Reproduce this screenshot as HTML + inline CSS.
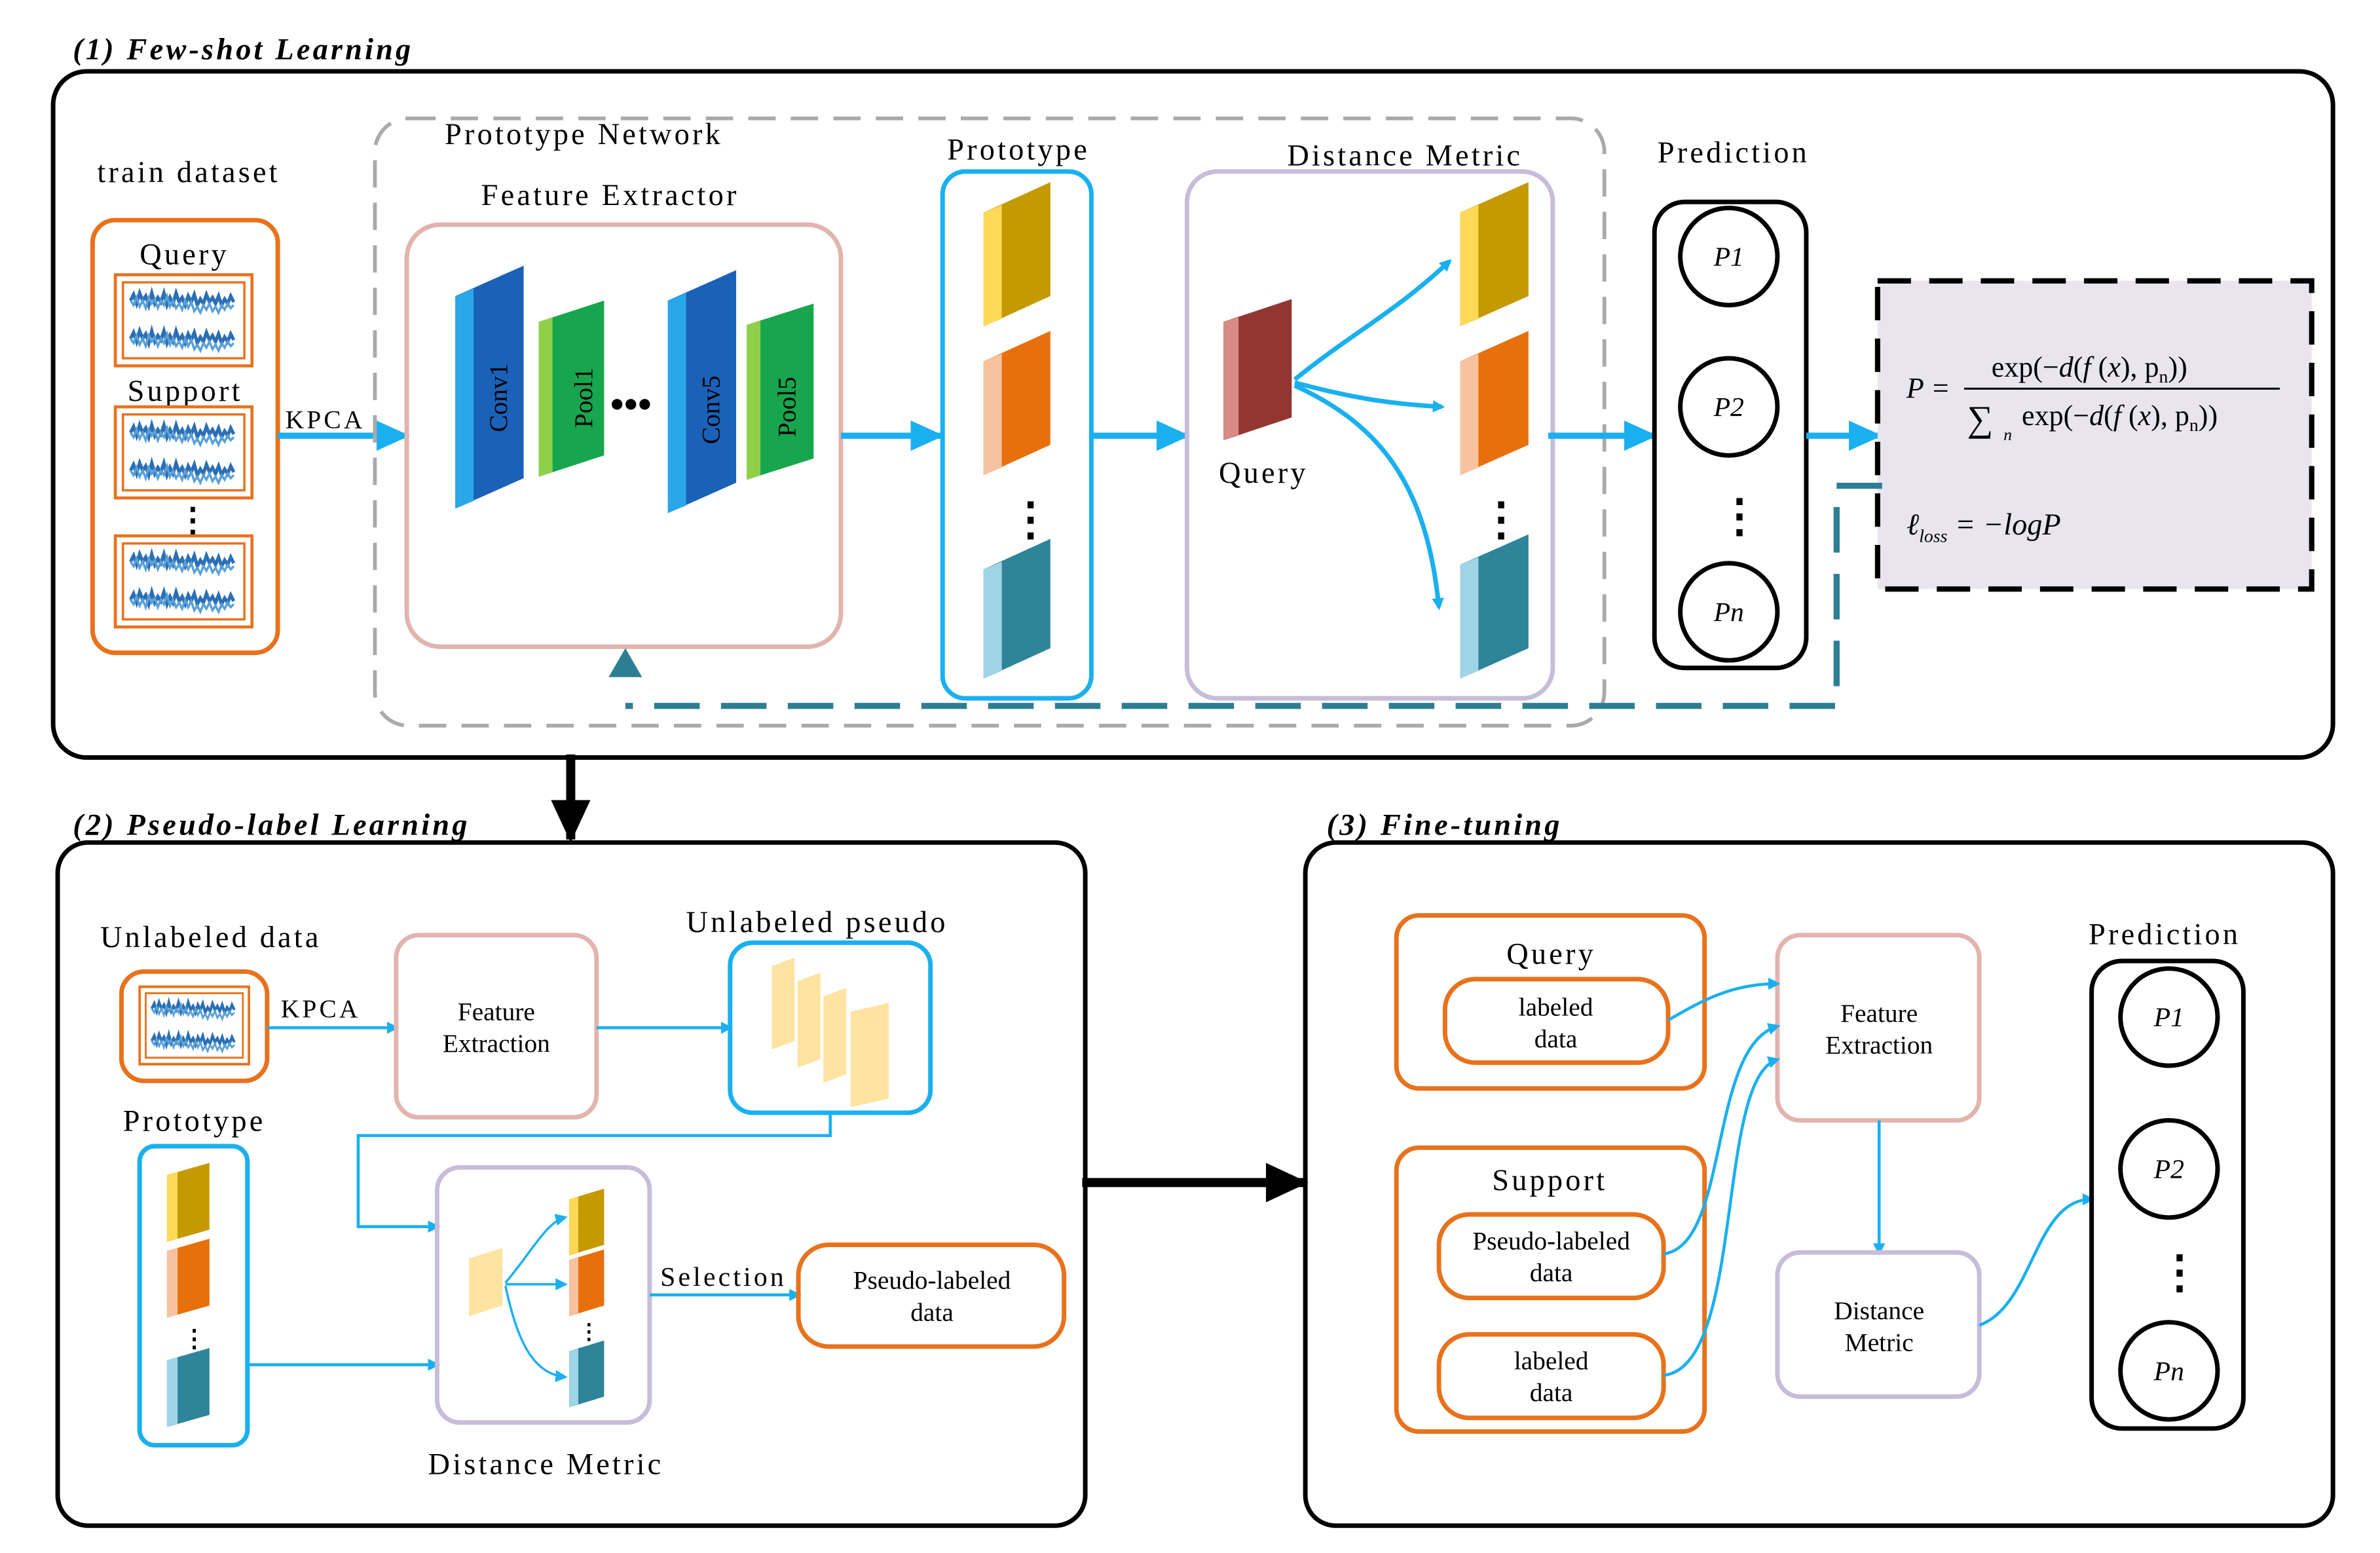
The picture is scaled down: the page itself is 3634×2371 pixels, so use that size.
<!DOCTYPE html>
<html><head><meta charset="utf-8">
<style>
html,body{margin:0;padding:0;background:#fff;}
svg{display:block;}
text{font-family:"Liberation Serif",serif;}
.w{letter-spacing:1.8px;}
</style></head>
<body>
<svg width="3634" height="2371" viewBox="0 0 1568 1023" preserveAspectRatio="none" xmlns="http://www.w3.org/2000/svg">
<defs>
<marker id="ab" markerWidth="8" markerHeight="8" refX="6" refY="4" orient="auto" markerUnits="userSpaceOnUse" viewBox="0 0 8 8"><path d="M0,0 L8,4 L0,8 z" fill="#1ab0ef"/></marker>
<marker id="abig" markerWidth="22" markerHeight="20" refX="20" refY="10" orient="auto" markerUnits="userSpaceOnUse"><path d="M0,0 L22,10 L0,20 z" fill="#1ab0ef"/></marker>
<marker id="ak" markerWidth="28" markerHeight="26" refX="26" refY="13" orient="auto" markerUnits="userSpaceOnUse"><path d="M0,0 L28,13 L0,26 z" fill="#000"/></marker>
<g id="wave">
<path d="M10,0 l2,-4 l2,6 l2,-7 l2,5 l2,-3 l2,6 l2,-8 l2,7 l2,-4 l2,3 l2,-6 l2,8 l2,-5 l2,4 l2,-7 l2,6 l2,-3 l2,5 l2,-6 l2,4 l2,-5 l2,7 l2,-4 l2,3 l2,-6 l2,5 l2,-3 l2,4 l2,-5 l2,6 l2,-4 l2,3 l2,-5 l2,4" fill="none" stroke="#2a6fb5" stroke-width="2.2"/>
<path d="M10,0 l2,3 l2,-5 l2,6 l2,-4 l2,5 l2,-7 l2,4 l2,-3 l2,6 l2,-5 l2,3 l2,-6 l2,7 l2,-4 l2,5 l2,-3 l2,4 l2,-6 l2,5 l2,-4 l2,6 l2,-3 l2,4 l2,-5 l2,3 l2,-4 l2,5 l2,-3 l2,4 l2,-5 l2,3 l2,-4 l2,3 l2,-2" fill="none" stroke="#5aa0d8" stroke-width="1.5"/>
</g>
<g id="sig">
<rect x="0" y="0" width="90" height="60" fill="#fff" stroke="#e8721c" stroke-width="2"/>
<rect x="5" y="5" width="80" height="50" fill="#fff" stroke="#e8721c" stroke-width="1.5"/>
<use href="#wave" y="17"/>
<use href="#wave" y="42"/>
</g>
</defs>
<rect width="1568" height="1023" fill="#fff"/>

<!-- Section 1 -->
<text x="48" y="39" font-size="20" font-weight="bold" font-style="italic" class="w">(1) Few-shot Learning</text>
<rect x="35" y="47" width="1502" height="452" rx="22" fill="none" stroke="#000" stroke-width="3"/>
<text x="64" y="120" font-size="20" class="w">train dataset</text>
<rect x="61" y="145" width="122" height="285" rx="15" fill="none" stroke="#e8721c" stroke-width="3"/>
<text x="92" y="174" font-size="20" class="w">Query</text>
<use href="#sig" x="76" y="181"/>
<text x="84" y="264" font-size="20" class="w">Support</text>
<use href="#sig" x="76" y="268"/>
<text x="116" y="350" font-size="22" font-weight="bold">⋮</text>
<use href="#sig" x="76" y="353"/>
<text x="188" y="282" font-size="17" class="w">KPCA</text>
<line x1="183" y1="287" x2="268" y2="287" stroke="#1ab0ef" stroke-width="4" marker-end="url(#abig)"/>

<rect x="247" y="78" width="810" height="400" rx="22" fill="none" stroke="#aaa" stroke-width="2.5" stroke-dasharray="18 10"/>
<text x="293" y="95" font-size="20" class="w">Prototype Network</text>
<text x="317" y="135" font-size="20" class="w">Feature Extractor</text>
<rect x="268" y="148" width="286" height="278" rx="22" fill="none" stroke="#e2b4ae" stroke-width="3"/>
<polygon points="300,195 345,175 345,315 300,335" fill="#1a62b8"/>
<polygon points="300,195 312,190 312,330 300,335" fill="#2aa7e8"/>
<text transform="translate(334,262) rotate(-90)" font-size="17" text-anchor="middle">Conv1</text>
<polygon points="355,212 398,198 398,300 355,314" fill="#17a54d"/>
<polygon points="355,212 364,209 364,311 355,314" fill="#8fd04a"/>
<text transform="translate(390,262) rotate(-90)" font-size="17" text-anchor="middle">Pool1</text>
<text x="402" y="275" font-size="26" font-weight="bold">•••</text>
<polygon points="440,198 485,178 485,318 440,338" fill="#1a62b8"/>
<polygon points="440,198 452,193 452,333 440,338" fill="#2aa7e8"/>
<text transform="translate(474,270) rotate(-90)" font-size="17" text-anchor="middle">Conv5</text>
<polygon points="492,214 536,200 536,302 492,316" fill="#17a54d"/>
<polygon points="492,214 501,211 501,313 492,316" fill="#8fd04a"/>
<text transform="translate(524,268) rotate(-90)" font-size="17" text-anchor="middle">Pool5</text>
<line x1="554" y1="287" x2="620" y2="287" stroke="#1ab0ef" stroke-width="4" marker-end="url(#abig)"/>

<text x="624" y="105" font-size="20" class="w">Prototype</text>
<rect x="621" y="113" width="98" height="347" rx="15" fill="none" stroke="#1ab0ef" stroke-width="3"/>
<polygon points="648,140 692,120 692,195 648,215" fill="#c49a00"/><polygon points="648,140 660,135 660,210 648,215" fill="#ffd856"/>
<polygon points="648,238 692,218 692,293 648,313" fill="#e8700c"/><polygon points="648,238 660,233 660,308 648,313" fill="#f7c2a0"/>
<text x="664" y="352" font-size="30" font-weight="bold">⋮</text>
<polygon points="648,375 692,355 692,427 648,447" fill="#2e8499"/><polygon points="648,375 660,370 660,442 648,447" fill="#9fd4e6"/>
<line x1="719" y1="287" x2="782" y2="287" stroke="#1ab0ef" stroke-width="4" marker-end="url(#abig)"/>

<text x="848" y="109" font-size="20" class="w">Distance Metric</text>
<rect x="782" y="113" width="241" height="347" rx="20" fill="none" stroke="#c7bcd9" stroke-width="3"/>
<polygon points="806,212 851,197 851,275 806,290" fill="#933632"/><polygon points="806,212 816,209 816,287 806,290" fill="#d88a86"/>
<text x="803" y="318" font-size="20" class="w">Query</text>
<path d="M853,250 C890,220 920,205 955,172" fill="none" stroke="#1ab0ef" stroke-width="3" marker-end="url(#ab)"/>
<path d="M853,252 C890,262 915,266 950,268" fill="none" stroke="#1ab0ef" stroke-width="3" marker-end="url(#ab)"/>
<path d="M853,254 C910,280 940,320 948,400" fill="none" stroke="#1ab0ef" stroke-width="3" marker-end="url(#ab)"/>
<polygon points="962,140 1007,120 1007,195 962,215" fill="#c49a00"/><polygon points="962,140 974,135 974,210 962,215" fill="#ffd856"/>
<polygon points="962,238 1007,218 1007,293 962,313" fill="#e8700c"/><polygon points="962,238 974,233 974,308 962,313" fill="#f7c2a0"/>
<text x="974" y="352" font-size="30" font-weight="bold">⋮</text>
<polygon points="962,372 1007,352 1007,427 962,447" fill="#2e8499"/><polygon points="962,372 974,367 974,442 962,447" fill="#9fd4e6"/>
<line x1="1020" y1="287" x2="1090" y2="287" stroke="#1ab0ef" stroke-width="4" marker-end="url(#abig)"/>

<text x="1092" y="107" font-size="20" class="w">Prediction</text>
<rect x="1090" y="133" width="100" height="307" rx="20" fill="none" stroke="#000" stroke-width="3"/>
<circle cx="1139" cy="169" r="32" fill="none" stroke="#000" stroke-width="3"/><text x="1139" y="175" font-size="18" font-style="italic" text-anchor="middle">P1</text>
<circle cx="1139" cy="268" r="32" fill="none" stroke="#000" stroke-width="3"/><text x="1139" y="274" font-size="18" font-style="italic" text-anchor="middle">P2</text>
<text x="1131" y="350" font-size="30" font-weight="bold">⋮</text>
<circle cx="1139" cy="403" r="32" fill="none" stroke="#000" stroke-width="3"/><text x="1139" y="409" font-size="18" font-style="italic" text-anchor="middle">Pn</text>
<line x1="1190" y1="287" x2="1238" y2="287" stroke="#1ab0ef" stroke-width="4" marker-end="url(#abig)"/>

<rect x="1237" y="185" width="286" height="203" fill="#e8e5ee" stroke="#000" stroke-width="3.5" stroke-dasharray="22 12"/>
<text x="1256" y="262" font-size="19" font-style="italic">P =</text>
<text x="1312" y="248" font-size="19">exp(−<tspan font-style="italic">d</tspan>(<tspan font-style="italic">f</tspan> (<tspan font-style="italic">x</tspan>), p<tspan font-size="12" dy="4">n</tspan><tspan dy="-4">))</tspan></text>
<line x1="1294" y1="256" x2="1502" y2="256" stroke="#000" stroke-width="1.3"/>
<text x="1296" y="284" font-size="24">∑</text><text x="1320" y="290" font-size="11" font-style="italic">n</text>
<text x="1332" y="280" font-size="19">exp(−<tspan font-style="italic">d</tspan>(<tspan font-style="italic">f</tspan> (<tspan font-style="italic">x</tspan>), p<tspan font-size="12" dy="4">n</tspan><tspan dy="-4">))</tspan></text>
<text x="1256" y="352" font-size="20" font-style="italic">ℓ<tspan font-size="12" dy="5">loss</tspan><tspan dy="-5"> = −logP</tspan></text>

<path d="M1240,320 L1210,320 L1210,465 L412,465" fill="none" stroke="#2e7e93" stroke-width="4" stroke-dasharray="30 14"/>
<polygon points="412,427 401,446 423,446" fill="#2e7e93"/>

<line x1="376" y1="497" x2="376" y2="553" stroke="#000" stroke-width="6" marker-end="url(#ak)"/>

<!-- Section 2 -->
<text x="48" y="550" font-size="20" font-weight="bold" font-style="italic" class="w">(2) Pseudo-label Learning</text>
<rect x="38" y="555" width="677" height="450" rx="20" fill="none" stroke="#000" stroke-width="3"/>
<text x="66" y="624" font-size="20" class="w">Unlabeled data</text>
<rect x="80" y="640" width="96" height="72" rx="15" fill="none" stroke="#e8721c" stroke-width="3"/>
<use href="#sig" transform="translate(92,650) scale(0.8,0.85)"/>
<text x="185" y="670" font-size="17" class="w">KPCA</text>
<line x1="176" y1="677" x2="261" y2="677" stroke="#1ab0ef" stroke-width="2" marker-end="url(#ab)"/>
<rect x="261" y="616" width="132" height="120" rx="15" fill="none" stroke="#e2b4ae" stroke-width="3"/>
<text x="327" y="672" font-size="17" text-anchor="middle">Feature</text>
<text x="327" y="693" font-size="17" text-anchor="middle">Extraction</text>
<line x1="393" y1="677" x2="481" y2="677" stroke="#1ab0ef" stroke-width="2" marker-end="url(#ab)"/>
<text x="452" y="614" font-size="20" class="w">Unlabeled pseudo</text>
<rect x="481" y="621" width="132" height="112" rx="15" fill="none" stroke="#1ab0ef" stroke-width="3"/>
<g fill="#ffe3a0" stroke="#fff" stroke-width="1">
<polygon points="508,636 524,630 524,686 508,692"/>
<polygon points="525,646 541,640 541,698 525,704"/>
<polygon points="542,656 558,650 558,708 542,714"/>
<polygon points="560,666 586,660 586,724 560,730"/>
</g>
<path d="M547,733 L547,748 L236,748 L236,808 L288,808" fill="none" stroke="#1ab0ef" stroke-width="2" marker-end="url(#ab)"/>
<text x="81" y="745" font-size="20" class="w">Prototype</text>
<rect x="92" y="755" width="71" height="197" rx="10" fill="none" stroke="#1ab0ef" stroke-width="3"/>
<polygon points="110,774 138,766 138,810 110,818" fill="#c49a00"/><polygon points="110,774 117,772 117,816 110,818" fill="#ffd856"/>
<polygon points="110,824 138,816 138,860 110,868" fill="#e8700c"/><polygon points="110,824 117,822 117,866 110,868" fill="#f7c2a0"/>
<text x="120" y="887" font-size="16" font-weight="bold">⋮</text>
<polygon points="110,896 138,888 138,932 110,940" fill="#2e8499"/><polygon points="110,896 117,894 117,938 110,940" fill="#9fd4e6"/>
<line x1="163" y1="899" x2="288" y2="899" stroke="#1ab0ef" stroke-width="2" marker-end="url(#ab)"/>
<rect x="288" y="769" width="140" height="168" rx="15" fill="none" stroke="#c7bcd9" stroke-width="3"/>
<polygon points="309,829 331,822 331,860 309,867" fill="#ffe3a0"/>
<path d="M333,845 C350,825 360,805 372,802" fill="none" stroke="#1ab0ef" stroke-width="1.5" marker-end="url(#ab)"/>
<path d="M333,846 C350,846 360,846 372,846" fill="none" stroke="#1ab0ef" stroke-width="1.5" marker-end="url(#ab)"/>
<path d="M333,847 C340,880 350,905 372,907" fill="none" stroke="#1ab0ef" stroke-width="1.5" marker-end="url(#ab)"/>
<polygon points="375,790 398,783 398,820 375,827" fill="#c49a00"/><polygon points="375,790 381,788 381,825 375,827" fill="#ffd856"/>
<polygon points="375,830 398,823 398,860 375,867" fill="#e8700c"/><polygon points="375,830 381,828 381,865 375,867" fill="#f7c2a0"/>
<text x="381" y="882" font-size="14" font-weight="bold">⋮</text>
<polygon points="375,890 398,883 398,920 375,927" fill="#2e8499"/><polygon points="375,890 381,888 381,925 375,927" fill="#9fd4e6"/>
<text x="282" y="971" font-size="20" class="w">Distance Metric</text>
<text x="435" y="847" font-size="18" class="w">Selection</text>
<line x1="428" y1="853" x2="526" y2="853" stroke="#1ab0ef" stroke-width="2" marker-end="url(#ab)"/>
<rect x="526" y="820" width="175" height="67" rx="20" fill="none" stroke="#e8721c" stroke-width="3"/>
<text x="614" y="849" font-size="17" text-anchor="middle">Pseudo-labeled</text>
<text x="614" y="870" font-size="17" text-anchor="middle">data</text>

<line x1="713" y1="779" x2="860" y2="779" stroke="#000" stroke-width="6" marker-end="url(#ak)"/>

<!-- Section 3 -->
<text x="874" y="550" font-size="20" font-weight="bold" font-style="italic" class="w">(3) Fine-tuning</text>
<rect x="860" y="555" width="677" height="450" rx="20" fill="none" stroke="#000" stroke-width="3"/>
<rect x="920" y="603" width="203" height="114" rx="15" fill="none" stroke="#e8721c" stroke-width="3"/>
<text x="1022" y="635" font-size="20" text-anchor="middle" class="w">Query</text>
<rect x="952" y="645" width="147" height="55" rx="20" fill="none" stroke="#e8721c" stroke-width="3"/>
<text x="1025" y="669" font-size="17" text-anchor="middle">labeled</text>
<text x="1025" y="690" font-size="17" text-anchor="middle">data</text>
<rect x="1171" y="616" width="133" height="122" rx="15" fill="none" stroke="#e2b4ae" stroke-width="3"/>
<text x="1238" y="673" font-size="17" text-anchor="middle">Feature</text>
<text x="1238" y="694" font-size="17" text-anchor="middle">Extraction</text>
<rect x="920" y="756" width="203" height="187" rx="15" fill="none" stroke="#e8721c" stroke-width="3"/>
<text x="1021" y="784" font-size="20" text-anchor="middle" class="w">Support</text>
<rect x="948" y="800" width="148" height="55" rx="20" fill="none" stroke="#e8721c" stroke-width="3"/>
<text x="1022" y="823" font-size="17" text-anchor="middle">Pseudo-labeled</text>
<text x="1022" y="844" font-size="17" text-anchor="middle">data</text>
<rect x="948" y="879" width="148" height="55" rx="20" fill="none" stroke="#e8721c" stroke-width="3"/>
<text x="1022" y="902" font-size="17" text-anchor="middle">labeled</text>
<text x="1022" y="923" font-size="17" text-anchor="middle">data</text>
<path d="M1099,672 C1120,660 1140,648 1171,648" fill="none" stroke="#1ab0ef" stroke-width="2" marker-end="url(#ab)"/>
<path d="M1096,826 C1140,820 1125,690 1171,676" fill="none" stroke="#1ab0ef" stroke-width="2" marker-end="url(#ab)"/>
<path d="M1096,906 C1150,900 1130,710 1171,698" fill="none" stroke="#1ab0ef" stroke-width="2" marker-end="url(#ab)"/>
<line x1="1238" y1="738" x2="1238" y2="825" stroke="#1ab0ef" stroke-width="2" marker-end="url(#ab)"/>
<rect x="1171" y="825" width="133" height="95" rx="15" fill="none" stroke="#c7bcd9" stroke-width="3"/>
<text x="1238" y="869" font-size="17" text-anchor="middle">Distance</text>
<text x="1238" y="890" font-size="17" text-anchor="middle">Metric</text>
<path d="M1304,873 C1340,860 1340,790 1378,790" fill="none" stroke="#1ab0ef" stroke-width="2" marker-end="url(#ab)"/>
<text x="1376" y="622" font-size="20" class="w">Prediction</text>
<rect x="1378" y="633" width="100" height="308" rx="20" fill="none" stroke="#000" stroke-width="3"/>
<circle cx="1429" cy="670" r="32" fill="none" stroke="#000" stroke-width="3"/><text x="1429" y="676" font-size="18" font-style="italic" text-anchor="middle">P1</text>
<circle cx="1429" cy="770" r="32" fill="none" stroke="#000" stroke-width="3"/><text x="1429" y="776" font-size="18" font-style="italic" text-anchor="middle">P2</text>
<text x="1421" y="848" font-size="30" font-weight="bold">⋮</text>
<circle cx="1429" cy="903" r="32" fill="none" stroke="#000" stroke-width="3"/><text x="1429" y="909" font-size="18" font-style="italic" text-anchor="middle">Pn</text>
</svg>
</body></html>
